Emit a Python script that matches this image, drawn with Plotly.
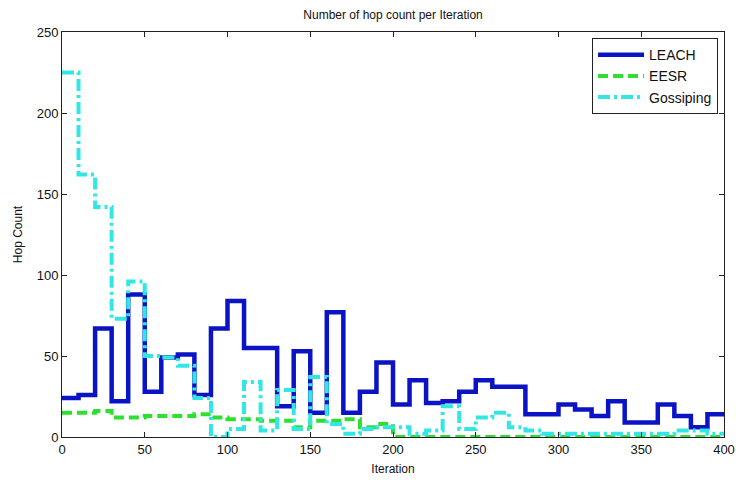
import plotly.graph_objects as go

iterations = list(range(0, 401, 10))

leach = [24, 26, 67, 22, 88, 28, 49, 51, 26, 67,
         84, 55, 55, 19, 53, 15, 77, 15, 28, 46,
         20, 35, 21, 22, 28, 35, 31, 31, 14, 14,
         20, 17, 13, 22, 9, 9, 20, 13, 6, 14]
eesr = [15, 15, 16, 12, 12, 13, 13, 13, 14, 12,
        11, 11, 10, 10, 6, 10, 10, 11, 6, 8,
        0, 0, 0, 0, 0, 0, 0, 0, 0, 0,
        0, 0, 0, 0, 0, 0, 0, 0, 0, 0]
gossiping = [225, 162, 142, 73, 96, 50, 49, 44, 24, 0,
             5, 34, 4, 29, 5, 37, 8, 2, 5, 6,
             6, 2, 4, 19, 5, 12, 15, 6, 4, 2,
             2, 2, 2, 2, 2, 2, 2, 4, 4, 2]

def close(v):
    return v + [v[-1]]

FONT = "Liberation Sans Narrow, Arial Narrow, Liberation Sans, Arial, sans-serif"

fig = go.Figure()
fig.add_trace(go.Scatter(x=iterations, y=close(leach), name="LEACH", mode="lines",
                         line=dict(color="#0a14c4", width=4.5, shape="hv")))
fig.add_trace(go.Scatter(x=iterations, y=close(eesr), name="EESR", mode="lines",
                         line=dict(color="#2ee02e", width=4, shape="hv", dash="10px,5px")))
fig.add_trace(go.Scatter(x=iterations, y=close(gossiping), name="Gossiping", mode="lines",
                         line=dict(color="#33e6e6", width=4, shape="hv", dash="12px,4px,3px,4px")))

axis_common = dict(showgrid=False, zeroline=False, showline=True, linecolor="#222222",
                   linewidth=1, mirror="ticks", ticks="inside", ticklen=5,
                   tickcolor="#222222", tickfont=dict(size=13, color="#111111"),
                   automargin=False)

fig.update_layout(
    width=736, height=485,
    margin=dict(l=62, r=12, t=32, b=48),
    paper_bgcolor="white", plot_bgcolor="white",
    font=dict(family=FONT, size=13, color="#111111"),
    title=dict(text="Number of hop count per Iteration", x=0.534, xanchor="center",
               y=0.969, yanchor="middle", font=dict(size=12)),
    xaxis=dict(range=[0, 400], tickvals=list(range(0, 401, 50)),
               title=dict(text="Iteration", standoff=9, font=dict(size=12)), **axis_common),
    yaxis=dict(range=[0, 250], tickvals=list(range(0, 251, 50)),
               title=dict(text="Hop Count", standoff=11, font=dict(size=12)), **axis_common),
    legend=dict(x=0.991, y=0.985, xanchor="right", yanchor="top",
                bgcolor="white", bordercolor="#222222", borderwidth=1,
                font=dict(size=14), tracegroupgap=0, itemwidth=46),
    showlegend=True,
)

fig.write_html("out.html", config={"displayModeBar": False},
               post_script="document.body.style.margin='0';document.body.style.overflow='hidden';")
